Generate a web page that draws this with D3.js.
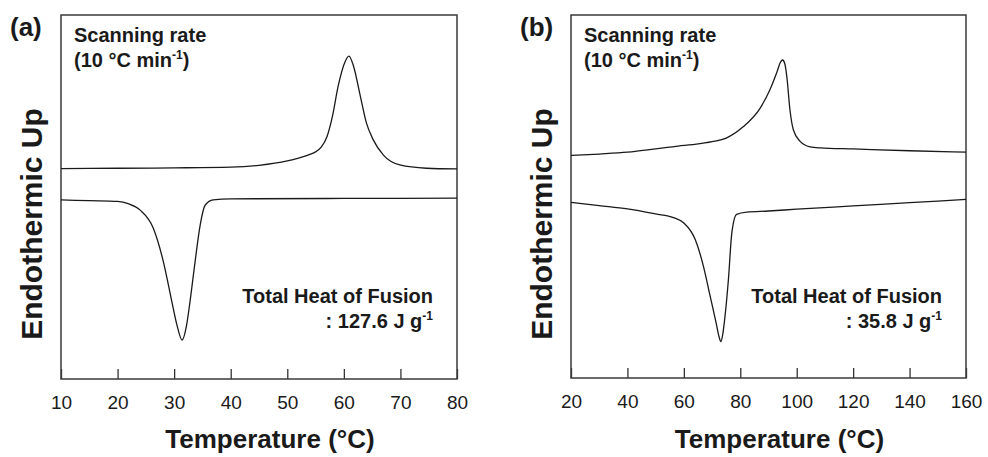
<!DOCTYPE html>
<html>
<head>
<meta charset="utf-8">
<script src="https://cdn.jsdelivr.net/npm/d3@7"></script>
<style>
  body { margin: 0; background: #fff; }
  svg { display: block; }
</style>
</head>
<body>
<div id="chart"></div>
<script>
"use strict"

// temperature ticks for each panel
let ticksA = [10, 20, 30, 40, 50, 60, 70, 80];
let ticksB = [20, 40, 60, 80, 100, 120, 140, 160];

// heat flow (arbitrary units, endothermic up): [temperature, signal]
let heatingA = [[10, 57.8], [20, 57.9], [30, 58.0], [40, 58.2], [45, 58.7], [50, 59.9], [52, 60.7],
    [54, 61.7], [55, 62.4], [56, 63.7], [57, 66.5], [58, 72.3], [59, 80.5], [60.2, 87.1], [60.9, 88.7],
    [61.7, 86.0], [62.9, 77.8], [64, 70.3], [65.2, 65.7], [67, 61.5], [69.9, 58.8], [74.6, 57.9], [80, 57.7]];

let coolingA = [[10, 49.2], [15, 49.0], [20, 48.8], [22, 48.1], [24, 46.4], [26.3, 41.5], [28.1, 32.2],
    [29.6, 21.2], [30.5, 14.8], [31.4, 10.7], [32.2, 14.8], [32.8, 21.2], [33.7, 32.2], [34.6, 42.3],
    [35.5, 47.8], [36.9, 49.2], [40, 49.5], [60, 49.6], [80, 49.7]];

let heatingB = [[20, 61.3], [30, 61.7], [40, 62.2], [50, 63.1], [58, 63.9], [63, 64.3], [70, 65.1],
    [75, 66.1], [81, 69.2], [87, 74.3], [90.5, 79.4], [93, 84.3], [94.3, 87.1], [95, 87.6], [95.8, 86.5],
    [96.5, 83.0], [97.6, 73.9], [98.8, 68.4], [101.2, 65.2], [104.7, 63.7], [108.3, 63.4], [120, 63.1],
    [140, 62.6], [160, 62.2]];

let coolingB = [[20, 48.4], [30, 47.5], [40, 46.6], [50, 45.2], [56.3, 44.2], [60, 42.7], [64, 38.2],
    [66.9, 30.9], [69.3, 22.6], [71.4, 15.3], [72.5, 11.3], [73.1, 10.0], [73.8, 12.1], [74.6, 17.1],
    [75.8, 27.2], [77, 40.0], [78.7, 45.1], [82.3, 45.7], [90, 46.0], [100, 46.5], [120, 47.4],
    [140, 48.3], [160, 49.2]];

let panelLabels = ["(a)", "(b)"];
let heatOfFusion = ["127.6", "35.8"];

let svgWidth = 988;
let svgHeight = 457;
let font = "'Liberation Sans', Arial, sans-serif";
let ink = "#1a1a1a";

let svg = d3.select("#chart")
    .append("svg")
    .attr("width", svgWidth)
    .attr("height", svgHeight)
    .style("font-family", font);

let frames = [
    {left: 61, right: 457, top: 15, bottom: 379},
    {left: 571, right: 966, top: 15, bottom: 378}
];

function drawPanel(i, domain, ticks, heating, cooling) {
    let f = frames[i];
    let g = svg.append("g");

    let xScale = d3.scaleLinear().domain(domain).range([f.left, f.right]);
    let yScale = d3.scaleLinear().domain([0, 100]).range([f.bottom, f.top]);

    /* x axis with ticks pointing inward */
    g.append("g")
        .attr("transform", "translate(0," + f.bottom + ")")
        .call(d3.axisBottom(xScale).tickValues(ticks).tickSizeInner(-10).tickSizeOuter(0).tickPadding(17))
        .call(a => a.select(".domain").remove())
        .call(a => a.attr("font-family", font).attr("font-size", 19))
        .call(a => a.selectAll(".tick line").attr("stroke", "#333").attr("stroke-width", 1.3))
        .call(a => a.selectAll(".tick text").attr("fill", ink));

    /* frame */
    g.append("rect")
        .attr("x", f.left)
        .attr("y", f.top)
        .attr("width", f.right - f.left)
        .attr("height", f.bottom - f.top)
        .attr("fill", "none")
        .attr("stroke", "#3a3a3a")
        .attr("stroke-width", 1.5);

    /* DSC curves */
    let line = d3.line()
        .x(d => xScale(d[0]))
        .y(d => yScale(d[1]))
        .curve(d3.curveMonotoneX);

    g.selectAll("path.curve")
        .data([heating, cooling])
        .join("path")
        .attr("class", "curve")
        .attr("d", line)
        .attr("fill", "none")
        .attr("stroke", ink)
        .attr("stroke-width", 1.3);

    /* panel letter */
    g.append("text")
        .attr("x", f.left - 51)
        .attr("y", 36)
        .attr("font-size", 26)
        .attr("font-weight", "bold")
        .attr("fill", ink)
        .text(panelLabels[i]);

    /* y label */
    g.append("text")
        .attr("transform", "translate(" + (f.left - 19) + ",224) rotate(-90)")
        .attr("text-anchor", "middle")
        .attr("font-size", 30)
        .attr("font-weight", "bold")
        .attr("fill", ink)
        .text("Endothermic Up");

    /* x label */
    g.append("text")
        .attr("x", (f.left + f.right) / 2 + 11)
        .attr("y", 448)
        .attr("text-anchor", "middle")
        .attr("font-size", 26)
        .attr("font-weight", "bold")
        .attr("fill", ink)
        .text("Temperature (°C)");

    /* scanning rate note */
    let note = g.append("g")
        .attr("font-size", 20)
        .attr("font-weight", "bold")
        .attr("fill", ink);
    note.append("text")
        .attr("x", f.left + 13)
        .attr("y", 42)
        .text("Scanning rate");
    let rate = note.append("text")
        .attr("x", f.left + 13)
        .attr("y", 67);
    rate.append("tspan").text("(10 °C min");
    rate.append("tspan").attr("font-size", 12).attr("dy", -8).text("-1");
    rate.append("tspan").attr("dy", 8).text(")");

    /* heat of fusion note */
    let fusion = g.append("g")
        .attr("font-size", 20)
        .attr("font-weight", "bold")
        .attr("fill", ink)
        .attr("text-anchor", "end");
    fusion.append("text")
        .attr("x", f.right - 24)
        .attr("y", 303)
        .text("Total Heat of Fusion");
    let val = fusion.append("text")
        .attr("x", f.right - 24)
        .attr("y", 328);
    val.append("tspan").text(": " + heatOfFusion[i] + " J g");
    val.append("tspan").attr("font-size", 12).attr("dy", -8).text("-1");
}

drawPanel(0, [10, 80], ticksA, heatingA, coolingA);
drawPanel(1, [20, 160], ticksB, heatingB, coolingB);
</script>
</body>
</html>
